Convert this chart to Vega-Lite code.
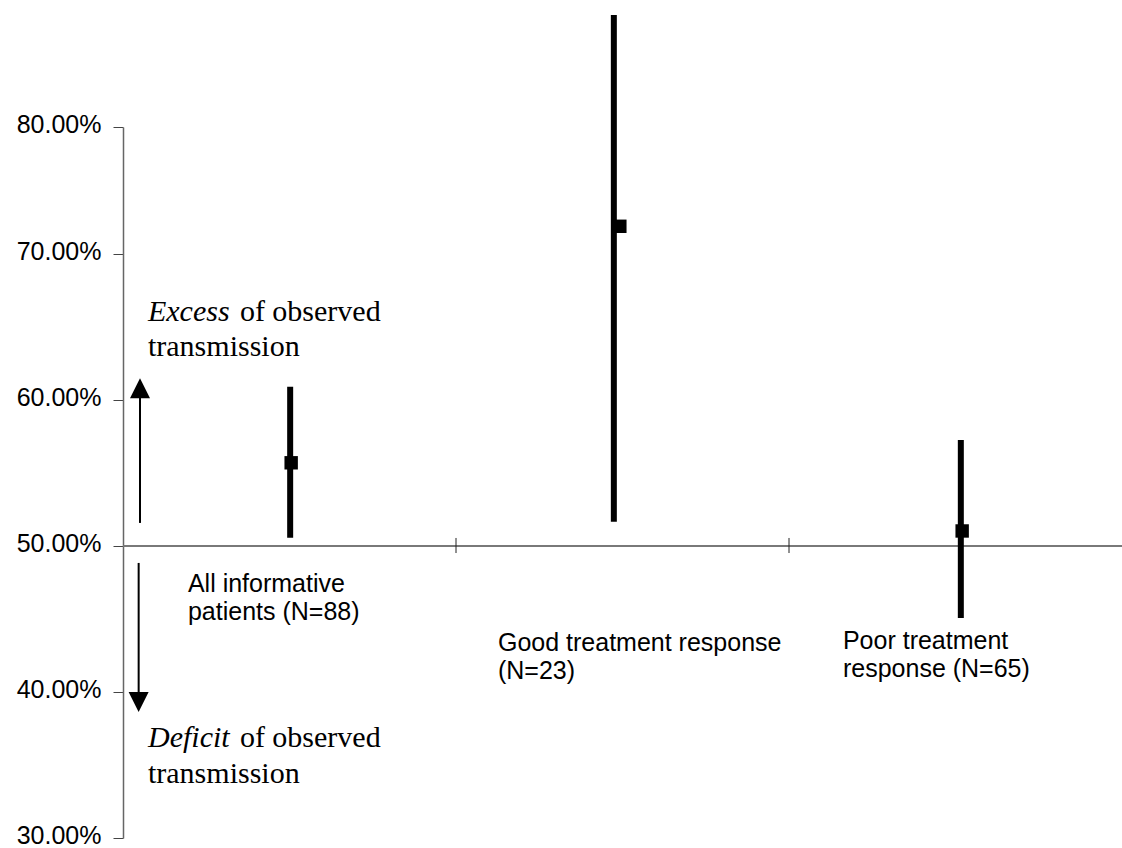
{
  "$schema": "https://vega.github.io/schema/vega-lite/v6.json",
  "width": 999,
  "height": 711,
  "autosize": {"type": "none"},
  "padding": {"left": 123, "top": 127, "right": 0, "bottom": 10},
  "background": "white",
  "config": {"view": {"stroke": null}},
  "data": {
    "values": [
      {"group": "All informative patients (N=88)", "est": 0.557, "lo": 0.5057, "hi": 0.609},
      {"group": "Good treatment response (N=23)", "est": 0.719, "lo": 0.5166, "hi": 0.8637},
      {"group": "Poor treatment response (N=65)", "est": 0.5103, "lo": 0.4507, "hi": 0.5726}
    ]
  },
  "encoding": {
    "x": {
      "field": "group",
      "type": "nominal",
      "scale": {
        "domain": ["All informative patients (N=88)", "Good treatment response (N=23)", "Poor treatment response (N=65)"],
        "paddingInner": 0,
        "paddingOuter": 0
      },
      "axis": null
    }
  },
  "layer": [
    {
      "mark": {"type": "rule", "color": "#777777", "strokeWidth": 1.5},
      "encoding": {
        "x": null,
        "y": {
          "datum": 0.5,
          "type": "quantitative",
          "scale": {"domain": [0.3, 0.787], "nice": false, "zero": false},
          "axis": {
            "values": [0.3, 0.4, 0.5, 0.6, 0.7, 0.787],
            "labelExpr": "datum.value > 0.75 ? '80.00%' : format(datum.value, '.2%')",
            "title": null,
            "grid": false,
            "domainColor": "#666666",
            "domainWidth": 1.5,
            "tickColor": "#444444",
            "tickSize": 10,
            "labelFont": "Liberation Sans",
            "labelFontSize": 25,
            "labelColor": "black",
            "labelPadding": 12,
            "labelOffset": -3,
            "labelOverlap": false
          }
        }
      }
    },
    {
      "data": {"values": [{"group": "Good treatment response (N=23)"}, {"group": "Poor treatment response (N=65)"}]},
      "mark": {"type": "rule", "color": "#222222", "strokeWidth": 1},
      "encoding": {
        "x": {"field": "group", "type": "nominal", "bandPosition": 0},
        "y": {"datum": 0.4952, "type": "quantitative"},
        "y2": {"datum": 0.5055}
      }
    },
    {
      "transform": [{"filter": "datum.group == 'All informative patients (N=88)'"}],
      "mark": {"type": "rule", "color": "black", "strokeWidth": 6},
      "encoding": {
        "x": {"field": "group", "type": "nominal", "bandPosition": 0.502},
        "y": {"field": "lo", "type": "quantitative"},
        "y2": {"field": "hi"}
      }
    },
    {
      "transform": [{"filter": "datum.group == 'Good treatment response (N=23)'"}],
      "mark": {"type": "rule", "color": "black", "strokeWidth": 6},
      "encoding": {
        "x": {"field": "group", "type": "nominal", "bandPosition": 0.474},
        "y": {"field": "lo", "type": "quantitative"},
        "y2": {"field": "hi"}
      }
    },
    {
      "transform": [{"filter": "datum.group == 'Poor treatment response (N=65)'"}],
      "mark": {"type": "rule", "color": "black", "strokeWidth": 6},
      "encoding": {
        "x": {"field": "group", "type": "nominal", "bandPosition": 0.516},
        "y": {"field": "lo", "type": "quantitative"},
        "y2": {"field": "hi"}
      }
    },
    {
      "transform": [{"filter": "datum.group == 'All informative patients (N=88)'"}],
      "mark": {"type": "point", "shape": "square", "filled": true, "size": 180, "color": "black", "opacity": 1},
      "encoding": {
        "x": {"field": "group", "type": "nominal", "bandPosition": 0.505},
        "y": {"field": "est", "type": "quantitative"}
      }
    },
    {
      "transform": [{"filter": "datum.group == 'Good treatment response (N=23)'"}],
      "mark": {"type": "point", "shape": "square", "filled": true, "size": 180, "color": "black", "opacity": 1},
      "encoding": {
        "x": {"field": "group", "type": "nominal", "bandPosition": 0.492},
        "y": {"field": "est", "type": "quantitative"}
      }
    },
    {
      "transform": [{"filter": "datum.group == 'Poor treatment response (N=65)'"}],
      "mark": {"type": "point", "shape": "square", "filled": true, "size": 180, "color": "black", "opacity": 1},
      "encoding": {
        "x": {"field": "group", "type": "nominal", "bandPosition": 0.52},
        "y": {"field": "est", "type": "quantitative"}
      }
    },
    {
      "data": {"values": [{"group": "All informative patients (N=88)", "from": 0.5158, "to": 0.608}]},
      "mark": {"type": "rule", "color": "black", "strokeWidth": 2},
      "encoding": {
        "x": {"field": "group", "type": "nominal", "bandPosition": 0.051},
        "y": {"field": "from", "type": "quantitative"},
        "y2": {"field": "to"}
      }
    },
    {
      "data": {"values": [{"group": "All informative patients (N=88)", "tip": 0.608}]},
      "mark": {"type": "point", "shape": "M0,-1L1,1L-1,1Z", "filled": true, "size": 400, "color": "black", "opacity": 1, "strokeWidth": 0},
      "encoding": {
        "x": {"field": "group", "type": "nominal", "bandPosition": 0.051},
        "y": {"field": "tip", "type": "quantitative"}
      }
    },
    {
      "data": {"values": [{"group": "All informative patients (N=88)", "from": 0.4884, "to": 0.3932}]},
      "mark": {"type": "rule", "color": "black", "strokeWidth": 2},
      "encoding": {
        "x": {"field": "group", "type": "nominal", "bandPosition": 0.047},
        "y": {"field": "from", "type": "quantitative"},
        "y2": {"field": "to"}
      }
    },
    {
      "data": {"values": [{"group": "All informative patients (N=88)", "tip": 0.3932}]},
      "mark": {"type": "point", "shape": "M-1,-1L1,-1L0,1Z", "filled": true, "size": 400, "color": "black", "opacity": 1, "strokeWidth": 0},
      "encoding": {
        "x": {"field": "group", "type": "nominal", "bandPosition": 0.047},
        "y": {"field": "tip", "type": "quantitative"}
      }
    },
    {
      "data": {"values": [{"group": "All informative patients (N=88)", "label": "Excess"}]},
      "mark": {"type": "text", "align": "left", "baseline": "alphabetic", "font": "Liberation Serif", "fontSize": 30, "fontStyle": "italic", "color": "black"},
      "encoding": {
        "x": {"field": "group", "type": "nominal", "bandPosition": 0.075},
        "y": {"datum": 0.6541, "type": "quantitative"},
        "text": {"field": "label"}
      }
    },
    {
      "data": {"values": [{"group": "All informative patients (N=88)", "label": "of observed"}]},
      "mark": {"type": "text", "align": "left", "baseline": "alphabetic", "font": "Liberation Serif", "fontSize": 30, "color": "black"},
      "encoding": {
        "x": {"field": "group", "type": "nominal", "bandPosition": 0.351},
        "y": {"datum": 0.6541, "type": "quantitative"},
        "text": {"field": "label"}
      }
    },
    {
      "data": {"values": [{"group": "All informative patients (N=88)", "label": "transmission"}]},
      "mark": {"type": "text", "align": "left", "baseline": "alphabetic", "font": "Liberation Serif", "fontSize": 30, "color": "black"},
      "encoding": {
        "x": {"field": "group", "type": "nominal", "bandPosition": 0.075},
        "y": {"datum": 0.6301, "type": "quantitative"},
        "text": {"field": "label"}
      }
    },
    {
      "data": {"values": [{"group": "All informative patients (N=88)", "label": "Deficit"}]},
      "mark": {"type": "text", "align": "left", "baseline": "alphabetic", "font": "Liberation Serif", "fontSize": 30, "fontStyle": "italic", "color": "black"},
      "encoding": {
        "x": {"field": "group", "type": "nominal", "bandPosition": 0.075},
        "y": {"datum": 0.3623, "type": "quantitative"},
        "text": {"field": "label"}
      }
    },
    {
      "data": {"values": [{"group": "All informative patients (N=88)", "label": "of observed"}]},
      "mark": {"type": "text", "align": "left", "baseline": "alphabetic", "font": "Liberation Serif", "fontSize": 30, "color": "black"},
      "encoding": {
        "x": {"field": "group", "type": "nominal", "bandPosition": 0.351},
        "y": {"datum": 0.3623, "type": "quantitative"},
        "text": {"field": "label"}
      }
    },
    {
      "data": {"values": [{"group": "All informative patients (N=88)", "label": "transmission"}]},
      "mark": {"type": "text", "align": "left", "baseline": "alphabetic", "font": "Liberation Serif", "fontSize": 30, "color": "black"},
      "encoding": {
        "x": {"field": "group", "type": "nominal", "bandPosition": 0.075},
        "y": {"datum": 0.3377, "type": "quantitative"},
        "text": {"field": "label"}
      }
    },
    {
      "data": {"values": [{"group": "All informative patients (N=88)", "label": "All informative\npatients (N=88)"}]},
      "mark": {"type": "text", "align": "left", "baseline": "alphabetic", "font": "Liberation Sans", "fontSize": 25, "lineHeight": 28, "lineBreak": "\n", "color": "black"},
      "encoding": {
        "x": {"field": "group", "type": "nominal", "bandPosition": 0.195},
        "y": {"datum": 0.4685, "type": "quantitative"},
        "text": {"field": "label"}
      }
    },
    {
      "data": {"values": [{"group": "Good treatment response (N=23)", "label": "Good treatment response\n(N=23)"}]},
      "mark": {"type": "text", "align": "left", "baseline": "alphabetic", "font": "Liberation Sans", "fontSize": 25, "lineHeight": 28, "lineBreak": "\n", "color": "black"},
      "encoding": {
        "x": {"field": "group", "type": "nominal", "bandPosition": 0.126},
        "y": {"datum": 0.4284, "type": "quantitative"},
        "text": {"field": "label"}
      }
    },
    {
      "data": {"values": [{"group": "Poor treatment response (N=65)", "label": "Poor treatment\nresponse (N=65)"}]},
      "mark": {"type": "text", "align": "left", "baseline": "alphabetic", "font": "Liberation Sans", "fontSize": 25, "lineHeight": 28, "lineBreak": "\n", "color": "black"},
      "encoding": {
        "x": {"field": "group", "type": "nominal", "bandPosition": 0.162},
        "y": {"datum": 0.4295, "type": "quantitative"},
        "text": {"field": "label"}
      }
    }
  ]
}
